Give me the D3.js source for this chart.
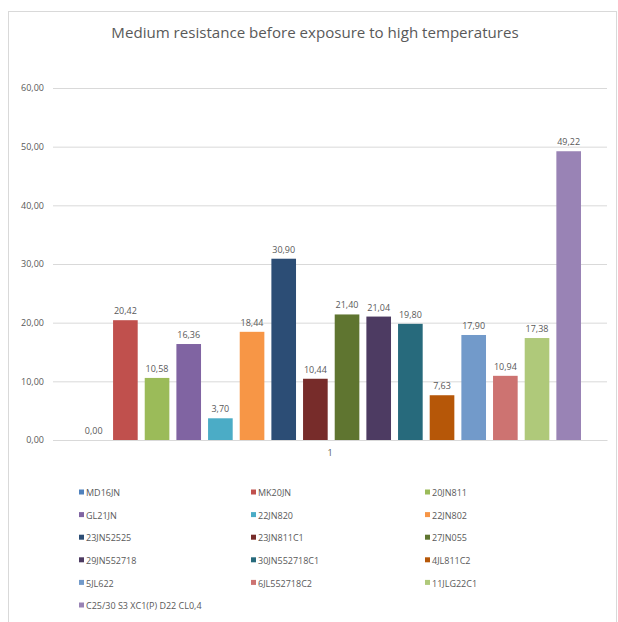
<!DOCTYPE html>
<html>
<head>
<meta charset="utf-8">
<script src="https://cdn.jsdelivr.net/npm/d3@7"></script>
<style>
  html, body { margin: 0; padding: 0; background: #fff; }
  svg { display: block; font-family: "Open Sans", "Liberation Sans", sans-serif; }
</style>
</head>
<body>
<svg id="chart" width="618" height="622"></svg>
<script>
// Series (one bar per specimen, all in the single category "1")
const seriesNames = [
  "MD16JN", "MK20JN", "20JN811",
  "GL21JN", "22JN820", "22JN802",
  "23JN52525", "23JN811C1", "27JN055",
  "29JN552718", "30JN552718C1", "4JL811C2",
  "5JL622", "6JL552718C2", "11JLG22C1",
  "C25/30 S3 XC1(P) D22 CL0,4"
];
const seriesValues = [
  0.00, 20.42, 10.58,
  16.36, 3.70, 18.44,
  30.90, 10.44, 21.40,
  21.04, 19.80, 7.63,
  17.90, 10.94, 17.38,
  49.22
];
const seriesColors = [
  "#4f81bd", "#c0504d", "#9bbb59",
  "#8064a2", "#4bacc6", "#f79646",
  "#2c4d75", "#772c2a", "#5f7530",
  "#4d3b62", "#276a7c", "#b65708",
  "#729aca", "#cd7371", "#afc97a",
  "#9983b5"
];
const categories = ["1"];
const yTicks = [0, 10, 20, 30, 40, 50, 60];
const title = "Medium resistance before exposure to high temperatures";

const locale = d3.formatLocale({ decimal: ",", thousands: ".", grouping: [3], currency: ["", ""] });
const fmt = locale.format(".2f");

const svg = d3.select("#chart");
const textColor = "#595959";

// chart frame
svg.append("rect")
  .attr("x", 8.5).attr("y", 11.5)
  .attr("width", 608).attr("height", 640)
  .attr("fill", "#fff").attr("stroke", "#d9d9d9");

// title
svg.append("text")
  .attr("x", 315).attr("y", 38)
  .attr("text-anchor", "middle")
  .attr("font-size", 15.1)
  .attr("fill", textColor)
  .text(title);

const plot = { left: 53, right: 607, top: 88, bottom: 440 };

const y = d3.scaleLinear().domain([0, 60]).range([plot.bottom, plot.top]);
const xCat = d3.scaleBand().domain(categories).range([plot.left, plot.right]);
const xSer = d3.scaleBand()
  .domain(seriesNames)
  .range([81.4, 581])
  .paddingInner(0.222)
  .paddingOuter(0);

// gridlines and y-axis labels
const yAxis = d3.axisLeft(y)
  .tickValues(yTicks)
  .tickSize(-(plot.right - plot.left))
  .tickPadding(9)
  .tickFormat(fmt);

const gY = svg.append("g")
  .attr("transform", `translate(${plot.left},0)`)
  .call(yAxis);
gY.select(".domain").remove();
gY.selectAll(".tick line").attr("stroke", "#d9d9d9").attr("stroke-width", 1);
gY.selectAll(".tick text")
  .attr("fill", textColor)
  .attr("font-size", 9)
  .attr("font-family", "Open Sans, Liberation Sans, sans-serif");

// category axis
const xAxis = d3.axisBottom(xCat).tickSize(0).tickPadding(10);
const gX = svg.append("g")
  .attr("transform", `translate(0,${plot.bottom})`)
  .call(xAxis);
gX.select(".domain").attr("stroke", "#d9d9d9");
gX.selectAll(".tick text")
  .attr("fill", textColor)
  .attr("font-size", 9)
  .attr("font-family", "Open Sans, Liberation Sans, sans-serif");

// bars
const data = seriesNames.map((name, i) => ({ name, value: seriesValues[i], color: seriesColors[i] }));

svg.append("g").selectAll("rect")
  .data(data)
  .join("rect")
  .attr("x", d => xSer(d.name))
  .attr("y", d => y(d.value))
  .attr("width", xSer.bandwidth())
  .attr("height", d => y(0) - y(d.value))
  .attr("fill", d => d.color);

// value labels
svg.append("g").selectAll("text")
  .data(data)
  .join("text")
  .attr("x", d => xSer(d.name) + xSer.bandwidth() / 2)
  .attr("y", d => y(d.value) - 6)
  .attr("text-anchor", "middle")
  .attr("font-size", 9)
  .attr("fill", textColor)
  .text(d => fmt(d.value));

// legend: three columns, row-major
const legendCols = [79, 251, 425];
const legendTop = 493;
const legendRowH = 22.6;

const leg = svg.append("g").selectAll("g")
  .data(data)
  .join("g")
  .attr("transform", (d, i) => `translate(${legendCols[i % 3]},${legendTop + Math.floor(i / 3) * legendRowH})`);

leg.append("rect")
  .attr("x", 0).attr("y", -3.5)
  .attr("width", 5).attr("height", 5)
  .attr("fill", d => d.color);

leg.append("text")
  .attr("x", 7).attr("y", 0)
  .attr("dy", "0.35em")
  .attr("font-size", 9)
  .attr("fill", textColor)
  .text(d => d.name);
</script>
</body>
</html>
